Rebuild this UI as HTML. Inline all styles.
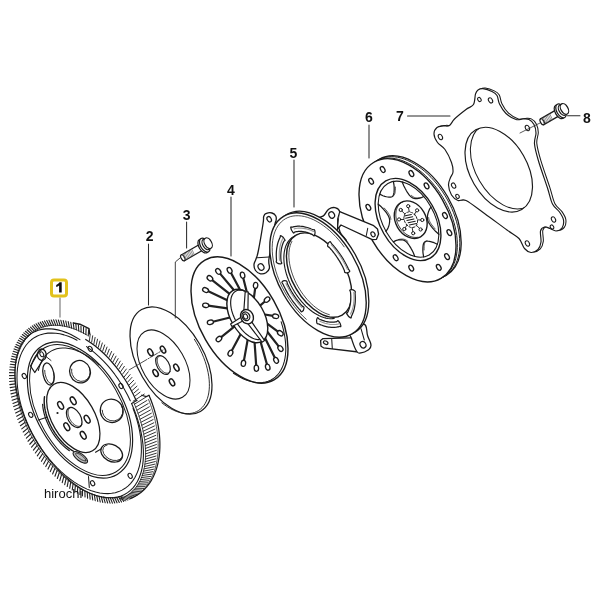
<!DOCTYPE html>
<html><head><meta charset="utf-8"><title>clutch</title>
<style>
html,body{margin:0;padding:0;background:#fff;}
body{width:600px;height:600px;overflow:hidden;font-family:"Liberation Sans",sans-serif;}
svg{display:block;font-family:"Liberation Sans",sans-serif;}
</style></head><body>
<svg width="600" height="600" viewBox="0 0 600 600" stroke-linecap="round" stroke-linejoin="round">
<rect width="600" height="600" fill="#fff"/>
<path d="M130.2 498.51 L131.22 498.12 L132.23 497.69 L133.23 497.24 L134.21 496.76 L135.18 496.25 L136.13 495.72 L137.06 495.16 L137.99 494.58 L138.89 493.97 L139.78 493.33 L140.66 492.67 L141.51 491.98 L142.35 491.27 L143.18 490.53 L143.98 489.77 L144.77 488.98 L145.54 488.17 L146.29 487.34 L147.03 486.48 L147.74 485.6 L148.44 484.7 L149.12 483.77 L149.78 482.82 L150.42 481.85 L151.04 480.85 L151.64 479.83 L152.22 478.8 L152.78 477.74 L153.32 476.66 L153.84 475.56 L154.34 474.44 L154.82 473.3 L155.28 472.14 L155.72 470.96 L156.13 469.77 L156.53 468.55 L156.9 467.32 L157.25 466.07 L157.58 464.8 L157.89 463.51 L158.18 462.21 L158.44 460.89 L158.68 459.56 L158.9 458.21 L159.1 456.85 L159.28 455.47 L159.43 454.08 L159.57 452.68 L159.68 451.26 L159.76 449.83 L159.83 448.38 L159.87 446.93 L159.89 445.46 L159.89 443.99 L159.87 442.5 L159.82 441 L159.75 439.49 L159.66 437.98 L159.55 436.45 L159.41 434.92 L159.25 433.38 L159.07 431.83 L158.87 430.27 L158.64 428.71 L158.4 427.14 L158.13 425.57 L157.84 423.99 L157.52 422.41 L157.19 420.83 L156.84 419.24 L156.46 417.64 L156.06 416.05 L155.64 414.45 L155.2 412.86 L154.74 411.26 L154.26 409.66 L153.75 408.06 L153.23 406.46 L152.68 404.86 L152.12 403.26 L151.54 401.67 L150.93 400.07 L150.31 398.48 L149.66 396.9 L149 395.32" fill="none" stroke="#1a1a1a" stroke-width="1.23" />
<path d="M132.48 497.76 L133.44 497.25 L134.4 496.72 L135.33 496.16 L136.25 495.58 L137.16 494.97 L138.05 494.33 L138.92 493.67 L139.78 492.98 L140.62 492.27 L141.44 491.53 L142.25 490.77 L143.04 489.98 L143.81 489.17 L144.56 488.34 L145.3 487.48 L146.01 486.6 L146.71 485.7 L147.39 484.77 L148.05 483.82 L148.69 482.85 L149.31 481.85 L149.91 480.83 L150.49 479.8 L151.05 478.74 L151.59 477.66 L152.11 476.56 L152.61 475.44 L153.09 474.3 L153.55 473.14 L153.98 471.96 L154.4 470.77 L154.79 469.55 L155.17 468.32 L155.52 467.07 L155.85 465.8 L156.16 464.51 L156.44 463.21 L156.71 461.89 L156.95 460.56 L157.17 459.21 L157.37 457.85 L157.55 456.47 L157.7 455.08 L157.83 453.68 L157.94 452.26 L158.03 450.83 L158.1 449.38 L158.14 447.93 L158.16 446.46 L158.16 444.99 L158.13 443.5 L158.09 442 L158.02 440.49 L157.93 438.98 L157.81 437.45 L157.68 435.92 L157.52 434.38 L157.34 432.83 L157.14 431.27 L156.91 429.71 L156.66 428.14 L156.4 426.57 L156.1 424.99 L155.79 423.41 L155.46 421.83 L155.1 420.24 L154.73 418.64 L154.33 417.05 L153.91 415.45 L153.47 413.86 L153.01 412.26 L152.52 410.66 L152.02 409.06 L151.5 407.46 L150.95 405.86 L150.39 404.26 L149.8 402.67 L149.2 401.07 L148.58 399.48" fill="none" stroke="#1a1a1a" stroke-width="0.78" />
<path d="M149 395.32 L146.4 396.62 L141.44 395.19" fill="none" stroke="#1a1a1a" stroke-width="1.17" />
<path d="M73.29 322.99 L79.89 324.22 L89.01 328.73 L89.62 333.84" fill="none" stroke="#1a1a1a" stroke-width="1.43" />
<path d="M88.24 335.85L88.66 329.88M85.86 334.45L86.09 328.47M83.48 333.14L83.53 327.17M81.1 331.93L80.96 325.97M78.73 330.82L78.4 324.87M76.35 329.8L75.84 323.88M73.99 328.89L73.29 322.99M71.64 328.07L70.76 322.21M69.3 327.36L68.23 321.54M66.98 326.75L65.73 320.98M64.68 326.24L63.25 320.54M62.4 325.84L60.79 320.2M60.14 325.54L58.35 319.97M57.91 325.35L55.95 319.85M55.72 325.26L53.58 319.85M53.55 325.27L51.25 319.96M51.43 325.39L48.95 320.18M49.34 325.62L46.7 320.51M47.29 325.95L44.49 320.95M45.29 326.38L42.33 321.5M43.33 326.92L40.22 322.16M41.42 327.56L38.16 322.93M39.56 328.3L36.15 323.81M37.75 329.15L34.2 324.8M36 330.09L32.31 325.89M34.31 331.14L30.49 327.08M32.67 332.28L28.72 328.38M31.1 333.52L27.02 329.78M29.59 334.85L25.4 331.28M28.14 336.28L23.84 332.88M26.76 337.8L22.35 334.57M25.45 339.41L20.94 336.35M24.21 341.1L19.6 338.23M23.05 342.88L18.34 340.2M21.95 344.75L17.16 342.25M20.93 346.7L16.06 344.39M19.99 348.72L15.04 346.61M19.12 350.83L14.1 348.91M18.33 353L13.25 351.28M17.62 355.25L12.48 353.73M16.98 357.57L11.8 356.25M16.43 359.95L11.2 358.84M15.96 362.39L10.69 361.49M15.57 364.9L10.27 364.2M15.27 367.46L9.94 366.97M15.04 370.07L9.7 369.79M14.9 372.74L9.55 372.67M14.84 375.45L9.48 375.59M14.87 378.21L9.51 378.55M14.97 381.01L9.63 381.56M15.16 383.84L9.83 384.6M15.44 386.71L10.13 387.67M15.79 389.61L10.51 390.78M16.23 392.53L10.98 393.91M16.75 395.48L11.54 397.06M17.35 398.45L12.19 400.22M18.03 401.43L12.92 403.41M18.79 404.43L13.74 406.6M19.62 407.43L14.64 409.79M20.54 410.44L15.63 412.99M21.53 413.45L16.69 416.19M22.59 416.46L17.84 419.38M23.73 419.46L19.07 422.57M24.94 422.45L20.38 425.73M26.23 425.43L21.76 428.89M27.58 428.39L23.21 432.02M28.99 431.33L24.74 435.12M30.48 434.25L26.34 438.2M32.03 437.14L28.01 441.24M33.64 440L29.75 444.25M35.31 442.82L31.55 447.22M37.04 445.61L33.42 450.14M38.82 448.35L35.34 453.02M40.66 451.05L37.32 455.85M42.55 453.7L39.36 458.62M44.49 456.3L41.45 461.33M46.47 458.85L43.59 463.99M48.5 461.33L45.78 466.58M50.58 463.76L48.02 469.1M52.69 466.12L50.3 471.55M54.84 468.42L52.62 473.93M57.02 470.65L54.97 476.24M59.24 472.8L57.36 478.46M61.48 474.88L59.78 480.61M63.75 476.88L62.23 482.67M66.04 478.81L64.7 484.64M68.36 480.65L67.2 486.52M70.69 482.41L69.71 488.32M73.04 484.08L72.24 490.01M75.4 485.66L74.79 491.62M77.76 487.15L77.34 493.12M80.14 488.55L79.91 494.53M82.52 489.86L82.47 495.83M84.9 491.07L85.04 497.03M87.27 492.18L87.6 498.13M89.65 493.2L90.16 499.12M92.01 494.11L92.71 500.01M94.36 494.93L95.24 500.79M96.7 495.64L97.77 501.46M99.02 496.25L100.27 502.02M101.32 496.76L102.75 502.46M103.6 497.16L105.21 502.8M105.86 497.46L107.65 503.03M108.09 497.65L110.05 503.15M110.28 497.74L112.42 503.15M112.45 497.73L114.75 503.04M114.57 497.61L117.05 502.82M116.66 497.38L119.3 502.49M118.71 497.05L121.51 502.05M120.71 496.62L123.67 501.5" fill="none" stroke="#222" stroke-width="1.12"/>
<path d="M119.78 498.5L125.78 500.84M121.59 497.92L127.84 500.07M123.35 497.24L129.85 499.19M125.05 496.46L131.8 498.2M126.7 495.57L133.69 497.11M128.29 494.59L135.51 495.92M129.82 493.5L137.28 494.62M131.29 492.32L138.98 493.22M132.7 491.04L140.6 491.72M134.04 489.67L142.16 490.12M135.31 488.2L143.65 488.43M136.52 486.65L145.06 486.65M137.65 485L146.4 484.77M138.72 483.26L147.66 482.8M139.71 481.44L148.84 480.75M140.63 479.54L149.94 478.61M141.47 477.56L150.96 476.39M142.24 475.5L151.9 474.09M142.93 473.36L152.75 471.72M143.55 471.15L153.52 469.27M144.08 468.87L154.2 466.75M144.54 466.52L154.8 464.16M144.91 464.11L155.31 461.51M145.21 461.63L155.73 458.8M145.42 459.1L156.06 456.03M145.56 456.51L156.3 453.21M145.61 453.86L156.45 450.33M145.59 451.17L156.52 447.41M145.48 448.43L156.49 444.45M145.29 445.65L156.37 441.44M145.02 442.83L156.17 438.4M144.67 439.98L155.87 435.33M144.24 437.09L155.49 432.22M143.74 434.17L155.02 429.09M143.15 431.23L154.46 425.94M142.49 428.26L153.81 422.78M141.74 425.28L153.08 419.59M140.93 422.28L152.26 416.4M140.03 419.27L151.36 413.21M139.07 416.26L150.37 410.01M138.03 413.24L149.31 406.81M136.91 410.22L148.16 403.62M135.73 407.2L146.93 400.43M134.48 404.19L145.62 397.27M133.16 401.19L144.24 394.11M135.18 395.92L140.02 392.16M133.81 393.09L138.54 389.15M132.38 390.28L136.98 386.16M130.88 387.5L135.36 383.21M129.33 384.75L133.68 380.3M127.72 382.03L131.93 377.42M126.06 379.35L130.13 374.58M124.35 376.7L128.26 371.79M122.58 374.1L126.35 369.04M120.77 371.55L124.38 366.35M118.91 369.04L122.35 363.71M117.01 366.58L120.28 361.13M115.06 364.18L118.17 358.62M113.08 361.84L116.01 356.16M111.06 359.56L113.81 353.78M109.01 357.34L111.58 351.46M106.92 355.18L109.31 349.22M104.81 353.1L107.01 347.05M102.67 351.09L104.68 344.96M100.5 349.15L102.32 342.96M98.31 347.28L99.94 341.03M96.11 345.5L97.53 339.2M93.89 343.79L95.11 337.45M91.65 342.17L92.68 335.79M89.41 340.63L90.23 334.22" fill="none" stroke="#222" stroke-width="0.92"/>
<path d="M87.05 335.14 L82.23 332.49 L77.41 330.24 L72.62 328.4 L67.88 326.98 L63.22 325.97 L58.65 325.4 L54.21 325.26 L49.91 325.54 L45.78 326.26 L41.84 327.41 L38.1 328.98 L34.58 330.96 L31.31 333.34 L28.3 336.12 L25.56 339.27 L23.11 342.78 L20.96 346.64 L19.12 350.83 L17.6 355.31 L16.4 360.08 L15.54 365.11 L15.02 370.37 L14.84 375.83 L15 381.48 L15.5 387.27 L16.34 393.18 L17.51 399.19 L19.01 405.26 L20.83 411.36 L22.97 417.46 L25.4 423.53 L28.12 429.54 L31.12 435.46 L34.37 441.26 L37.87 446.91 L41.6 452.38 L45.53 457.65 L49.65 462.69 L53.94 467.47 L58.37 471.97 L62.93 476.17 L67.58 480.04 L72.32 483.58 L77.11 486.75 L81.92 489.54 L86.75 491.94 L91.55 493.94 L96.31 495.53 L101.01 496.69 L105.61 497.43 L110.1 497.74 L114.46 497.62 L118.65 497.06 L122.67 496.08" fill="none" stroke="#1a1a1a" stroke-width="0.78"/>
<path d="M119.78 498.5 L123.47 497.19 L126.93 495.44 L130.14 493.26 L133.09 490.66 L135.75 487.66 L138.12 484.27 L140.18 480.5 L141.92 476.39 L143.34 471.95 L144.41 467.2 L145.15 462.17 L145.55 456.88 L145.59 451.37 L145.29 445.65 L144.65 439.77 L143.66 433.75 L142.33 427.62 L140.68 421.42 L138.7 415.18 L136.42 408.92 L133.83 402.69" fill="none" stroke="#1a1a1a" stroke-width="0.78"/>
<path d="M79.92 339.65 L75.4 336.92 L70.91 334.57 L66.46 332.61 L62.06 331.04 L57.76 329.88 L53.56 329.14 L49.49 328.81 L45.56 328.89 L41.8 329.4 L38.22 330.31 L34.85 331.64 L31.69 333.37 L28.77 335.49 L26.1 338 L23.69 340.88 L21.56 344.12 L19.71 347.7 L18.15 351.6 L16.89 355.81 L15.95 360.3 L15.31 365.05 L14.99 370.04 L14.99 375.25 L15.3 380.64 L15.93 386.19 L16.87 391.88 L18.12 397.67 L19.67 403.54 L21.51 409.46 L23.64 415.4 L26.04 421.32 L28.71 427.21 L31.62 433.03 L34.77 438.75 L38.14 444.35 L41.71 449.79 L45.47 455.05 L49.39 460.11 L53.46 464.93 L57.66 469.5 L61.97 473.8 L66.35 477.79 L70.81 481.47 L75.3 484.81 L79.81 487.79 L84.32 490.41 L88.81 492.65 L93.24 494.49 L97.61 495.94 L101.89 496.98 L106.05 497.6 L110.09 497.81 L113.96 497.6 L117.67 496.98 L121.19 495.94 L124.5 494.49 L127.59 492.65 L130.44 490.41 L133.03 487.79 L135.36 484.8 L137.42 481.46 L139.18 477.79 L140.65 473.79 L141.82 469.5 L142.67 464.93 L143.22 460.1 L143.44 455.05 L143.35 449.79 L142.95 444.34 L142.23 438.75 L141.2 433.03 L139.86 427.21 L138.22 421.32 L136.29 415.39 L134.08 409.46 L131.6 403.54" fill="none" stroke="#1a1a1a" stroke-width="1.1"/>
<path d="M77.02 340.24 L72.66 338.08 L68.33 336.28 L64.06 334.87 L59.86 333.84 L55.75 333.21 L51.76 332.97 L47.91 333.13 L44.21 333.68 L40.68 334.63 L37.35 335.97 L34.22 337.68 L31.31 339.78 L28.64 342.23 L26.21 345.03 L24.05 348.18 L22.17 351.64 L20.56 355.41 L19.24 359.46 L18.22 363.78 L17.5 368.35 L17.09 373.13 L16.98 378.12 L17.18 383.28 L17.69 388.58 L18.5 394.01 L19.61 399.54 L21.01 405.13 L22.7 410.76 L24.67 416.41 L26.91 422.04 L29.4 427.62 L32.15 433.14 L35.12 438.56 L38.32 443.85 L41.71 448.99 L45.29 453.96 L49.04 458.72 L52.93 463.26 L56.96 467.56 L61.1 471.58 L65.32 475.32 L69.62 478.75 L73.96 481.86 L78.32 484.63 L82.7 487.05 L87.05 489.11 L91.36 490.79 L95.62 492.08 L99.79 492.99 L103.87 493.51 L107.82 493.62 L111.63 493.35 L115.28 492.67 L118.75 491.61 L122.02 490.15 L125.09 488.32 L127.92 486.12 L130.52 483.56 L132.87 480.65 L134.94 477.41 L136.75 473.85 L138.27 470 L139.5 465.86 L140.43 461.46 L141.05 456.83 L141.37 451.98 L141.39 446.94 L141.1 441.73 L140.5 436.39 L139.6 430.93 L138.4 425.38 L136.91 419.77 L135.14 414.13 L133.08 408.49" fill="none" stroke="#1a1a1a" stroke-width="1.04"/>
<path d="M136.17 400.52 L133.48 394.68 L130.52 388.92 L127.31 383.28 L123.87 377.79 L120.21 372.48 L116.36 367.37 L112.34 362.5 L108.16 357.88 L103.84 353.54 L99.42 349.51 L94.91 345.8 L90.34 342.44 L85.73 339.44" fill="none" stroke="#1a1a1a" stroke-width="1.23"/>
<path d="M130.29 400.84 L127.66 395.32 L124.78 389.89 L121.67 384.58 L118.34 379.42 L114.82 374.43 L111.13 369.65 L107.29 365.09 L103.3 360.8 L99.21 356.78 L95.03 353.06 L90.78 349.66 L86.49 346.61" fill="none" stroke="#1a1a1a" stroke-width="1.04"/>
<line x1="137.12" y1="400.2" x2="131.6" y2="403.54" stroke="#1a1a1a" stroke-width="1.04" />
<ellipse cx="80" cy="410" rx="43" ry="74.4" transform="rotate(-30 80 410)" fill="none" stroke="#1a1a1a" stroke-width="1.17" />
<ellipse cx="80" cy="410" rx="41" ry="71.6" transform="rotate(-30 80 410)" fill="none" stroke="#1a1a1a" stroke-width="0.98" />
<path d="M98.96 365.14 L95.65 362.2 L92.29 359.5 L88.9 357.06 L85.48 354.89 L82.07 353 L78.67 351.4 L75.3 350.1 L71.98 349.1 L68.73 348.41 L65.56 348.04 L62.49 347.98 L59.54 348.24 L56.71 348.81 L54.03 349.69 L51.51 350.88 L49.16 352.37 L46.99 354.15 L45.02 356.22 L43.25 358.56 L41.69 361.16 L40.35 364.01 L39.24 367.09 L38.37 370.39" fill="none" stroke="#1a1a1a" stroke-width="1.04"/>
<line x1="88.84" y1="356.3" x2="89.57" y2="357.1" stroke="#333" stroke-width="0.65" />
<line x1="85.99" y1="354.34" x2="86.88" y2="355.33" stroke="#333" stroke-width="0.65" />
<line x1="83.12" y1="352.57" x2="84.19" y2="353.72" stroke="#333" stroke-width="0.65" />
<line x1="80.26" y1="350.97" x2="81.49" y2="352.3" stroke="#333" stroke-width="0.65" />
<line x1="77.4" y1="349.57" x2="78.81" y2="351.05" stroke="#333" stroke-width="0.65" />
<line x1="74.55" y1="348.36" x2="76.15" y2="349.98" stroke="#333" stroke-width="0.65" />
<line x1="71.73" y1="347.35" x2="73.51" y2="349.1" stroke="#333" stroke-width="0.65" />
<path d="M38.3 351.5 C39.37 349.63 39.63 349.05 41.5 349 C43.37 348.95 44.1 349.3 45.3 351.3 C46.5 353.3 46.48 354.18 46 356.5 C45.52 358.82 45.23 359.2 43.5 360 C41.77 360.8 41.1 360.57 39.5 359.5 C37.9 358.43 37.82 358.13 37.5 356 C37.18 353.87 37.23 353.37 38.3 351.5Z" fill="none" stroke="#1a1a1a" stroke-width="1.3" />
<path d="M38 353 L30.5 366 L34.8 372.5 L43 360" fill="none" stroke="#1a1a1a" stroke-width="1.3" />
<path d="M46 356.5 L51 360.5" fill="none" stroke="#1a1a1a" stroke-width="0.91" />
<ellipse cx="41.8" cy="354.3" rx="1.7" ry="2.6" transform="rotate(-30 41.8 354.3)" fill="none" stroke="#1a1a1a" stroke-width="1.04" />
<line x1="38.5" y1="420" x2="46.8" y2="417.3" stroke="#1a1a1a" stroke-width="1.04" />
<line x1="95.5" y1="452.3" x2="101" y2="449" stroke="#1a1a1a" stroke-width="1.04" />
<line x1="88.5" y1="476.5" x2="89.3" y2="487.5" stroke="#1a1a1a" stroke-width="1.04" />
<ellipse cx="80" cy="371.7" rx="10.3" ry="11.3" transform="rotate(-20 80 371.7)" fill="#fff" stroke="#1a1a1a" stroke-width="1.25"/>
<ellipse cx="80.9" cy="371.3" rx="9.2" ry="10.2" transform="rotate(-20 80.9 371.3)" fill="none" stroke="#1a1a1a" stroke-width="0.8" stroke-dasharray="35.64 200" />
<ellipse cx="48.5" cy="374" rx="5.4" ry="11.2" transform="rotate(-12 48.5 374)" fill="#fff" stroke="#1a1a1a" stroke-width="1.25"/>
<ellipse cx="49.4" cy="373.6" rx="4.3" ry="10.1" transform="rotate(-12 49.4 373.6)" fill="none" stroke="#1a1a1a" stroke-width="0.8" stroke-dasharray="27.39 200" />
<ellipse cx="111.7" cy="410.8" rx="11.3" ry="11.8" transform="rotate(-30 111.7 410.8)" fill="#fff" stroke="#1a1a1a" stroke-width="1.25"/>
<ellipse cx="112.6" cy="410.4" rx="10.2" ry="10.7" transform="rotate(-30 112.6 410.4)" fill="none" stroke="#1a1a1a" stroke-width="0.8" stroke-dasharray="38.12 200" />
<ellipse cx="111.7" cy="453" rx="11.5" ry="8.3" transform="rotate(28 111.7 453)" fill="#fff" stroke="#1a1a1a" stroke-width="1.25"/>
<ellipse cx="112.6" cy="452.6" rx="10.4" ry="7.2" transform="rotate(28 112.6 452.6)" fill="none" stroke="#1a1a1a" stroke-width="0.8" stroke-dasharray="32.67 200" />
<ellipse cx="80.3" cy="457.3" rx="8.6" ry="3.6" transform="rotate(36 80.3 457.3)" fill="#bbb" stroke="#1a1a1a" stroke-width="1.1"/>
<ellipse cx="80.8" cy="457.1" rx="6.3" ry="1.8" transform="rotate(36 80.8 457.1)" fill="none" stroke="#1a1a1a" stroke-width="0.7"/>
<path d="M44.49 396.77 L44.27 398.87 L44.19 401.08 L44.26 403.37 L44.46 405.75 L44.8 408.18 L45.28 410.68 L45.9 413.21 L46.64 415.77 L47.52 418.35 L48.52 420.93 L49.63 423.49 L50.86 426.03 L52.2 428.54 L53.63 430.99 L55.16 433.37 L56.77 435.68 L58.45 437.91 L60.21 440.03 L62.02 442.04 L63.88 443.93 L65.77 445.69 L67.7 447.31 L69.65 448.78 L71.6 450.1 L73.55 451.25" fill="none" stroke="#1a1a1a" stroke-width="1.43"/>
<path d="M42.6 404.32 L42.82 406.66 L43.17 409.07 L43.66 411.52 L44.27 414.01 L45.01 416.53 L45.87 419.06 L46.85 421.6 L47.94 424.12 L49.14 426.62 L50.44 429.08 L51.84 431.5 L53.32 433.86 L54.89 436.15 L56.53 438.36 L58.23 440.47 L60 442.48 L61.81 444.38 L63.66 446.16 L65.54 447.81 L67.45 449.32 L69.36 450.68" fill="none" stroke="#1a1a1a" stroke-width="1.17"/>
<ellipse cx="73.3" cy="417.5" rx="21.3" ry="38.5" transform="rotate(-30 73.3 417.5)" fill="#fff" stroke="#1a1a1a" stroke-width="1.23" />
<ellipse cx="74.2" cy="417.5" rx="6.4" ry="11" transform="rotate(-30 74.2 417.5)" fill="none" stroke="#1a1a1a" stroke-width="1.23" />
<path d="M72.07 407.44 L71.63 407.44 L71.2 407.49 L70.79 407.58 L70.4 407.71 L70.04 407.89 L69.7 408.12 L69.39 408.38 L69.11 408.69 L68.86 409.04 L68.63 409.43 L68.45 409.85 L68.29 410.31 L68.17 410.8 L68.08 411.32 L68.03 411.86 L68.01 412.44 L68.03 413.03 L68.08 413.64 L68.17 414.27 L68.29 414.91 L68.45 415.56 L68.63 416.21 L68.86 416.87 L69.11 417.53 L69.39 418.19 L69.7 418.84 L70.04 419.48 L70.4 420.11 L70.79 420.73 L71.2 421.32 L71.62 421.89 L72.07 422.44 L72.53 422.96 L73 423.45 L73.49 423.91 L73.98 424.34 L74.48 424.73 L74.99 425.08 L75.49 425.39 L75.99 425.66 L76.49 425.89 L76.99 426.07 L77.47 426.21 L77.95 426.31 L78.41 426.36 L78.85 426.36 L79.28 426.31 L79.69 426.22 L80.08 426.09 L80.44 425.91 L80.78 425.68 L81.09 425.42 L81.37 425.11 L81.62 424.76 L81.84 424.37" fill="none" stroke="#1a1a1a" stroke-width="0.91"/>
<ellipse cx="83.22" cy="435.28" rx="2.3" ry="4.2" transform="rotate(-30 83.22 435.28)" fill="none" stroke="#1a1a1a" stroke-width="1.49" />
<ellipse cx="87.16" cy="419.23" rx="2.3" ry="4.2" transform="rotate(-30 87.16 419.23)" fill="none" stroke="#1a1a1a" stroke-width="1.49" />
<ellipse cx="73.19" cy="400.78" rx="2.3" ry="4.2" transform="rotate(-30 73.19 400.78)" fill="none" stroke="#1a1a1a" stroke-width="1.49" />
<ellipse cx="60.62" cy="405.44" rx="2.3" ry="4.2" transform="rotate(-30 60.62 405.44)" fill="none" stroke="#1a1a1a" stroke-width="1.49" />
<ellipse cx="66.81" cy="426.76" rx="2.3" ry="4.2" transform="rotate(-30 66.81 426.76)" fill="none" stroke="#1a1a1a" stroke-width="1.49" />
<circle cx="57.5" cy="413" r="1.1" fill="#1a1a1a"/>
<ellipse cx="130.15" cy="475.86" rx="1.9" ry="2.7" transform="rotate(-30 130.15 475.86)" fill="none" stroke="#1a1a1a" stroke-width="1.1" />
<ellipse cx="90.16" cy="348.85" rx="1.9" ry="2.7" transform="rotate(-30 90.16 348.85)" fill="none" stroke="#1a1a1a" stroke-width="1.1" />
<ellipse cx="24.27" cy="376.05" rx="1.9" ry="2.7" transform="rotate(-30 24.27 376.05)" fill="none" stroke="#1a1a1a" stroke-width="1.1" />
<ellipse cx="30.72" cy="414.83" rx="1.9" ry="2.7" transform="rotate(-30 30.72 414.83)" fill="none" stroke="#1a1a1a" stroke-width="1.1" />
<ellipse cx="92.59" cy="483.22" rx="1.9" ry="2.7" transform="rotate(-30 92.59 483.22)" fill="none" stroke="#1a1a1a" stroke-width="1.1" />
<ellipse cx="121" cy="386" rx="1.9" ry="2.7" transform="rotate(-30 121 386)" fill="none" stroke="#1a1a1a" stroke-width="1.1" />
<ellipse cx="171" cy="360.5" rx="33" ry="58.8" transform="rotate(-30 171 360.5)" fill="#fff" stroke="#1a1a1a" stroke-width="1.23" />
<path d="M161.85 402.82 L164.73 405 L167.63 406.95 L170.53 408.66 L173.42 410.13 L176.28 411.35 L179.11 412.31 L181.88 413.02 L184.58 413.46 L187.2 413.63 L189.73 413.53 L192.15 413.16 L194.46 412.54 L196.63 411.64 L198.66 410.49 L200.54 409.09 L202.26 407.44 L203.81 405.56 L205.18 403.45 L206.37 401.12 L207.37 398.58 L208.17 395.86 L208.78 392.95 L209.18 389.88 L209.38 386.66 L209.37 383.31 L209.16 379.84 L208.74 376.27 L208.13 372.63 L207.31 368.92 L206.3 365.16 L205.1 361.38 L203.71 357.59 L202.15 353.82 L200.42 350.08 L198.53 346.39 L196.49 342.76 L194.31 339.22" fill="none" stroke="#1a1a1a" stroke-width="0.91"/>
<ellipse cx="163.5" cy="364.5" rx="21.4" ry="37.9" transform="rotate(-30 163.5 364.5)" fill="none" stroke="#1a1a1a" stroke-width="1.04" />
<ellipse cx="163" cy="365" rx="6" ry="10.3" transform="rotate(-30 163 365)" fill="none" stroke="#1a1a1a" stroke-width="1.17" />
<path d="M160.04 355.79 L159.66 355.9 L159.31 356.05 L158.98 356.24 L158.68 356.47 L158.4 356.75 L158.15 357.06 L157.93 357.4 L157.74 357.78 L157.58 358.2 L157.45 358.64 L157.35 359.12 L157.29 359.62 L157.25 360.14 L157.26 360.69 L157.29 361.26 L157.36 361.84 L157.46 362.43 L157.6 363.03 L157.76 363.65 L157.96 364.26 L158.18 364.88 L158.44 365.49 L158.72 366.1 L159.03 366.7 L159.36 367.29 L159.71 367.86 L160.09 368.42 L160.48 368.96 L160.9 369.48 L161.32 369.97 L161.76 370.43 L162.22 370.87 L162.68 371.27 L163.14 371.64 L163.61 371.97 L164.08 372.26 L164.56 372.52 L165.02 372.74 L165.49 372.91 L165.94 373.05 L166.39 373.14 L166.82 373.18 L167.24 373.19 L167.65 373.15 L168.03 373.07 L168.39 372.94 L168.74 372.77 L169.06 372.56 L169.35 372.31 L169.62 372.03 L169.85 371.7 L170.06 371.34" fill="none" stroke="#1a1a1a" stroke-width="0.91"/>
<ellipse cx="150.4" cy="352.4" rx="2.15" ry="3.8" transform="rotate(-30 150.4 352.4)" fill="none" stroke="#1a1a1a" stroke-width="1.49" />
<ellipse cx="163" cy="349.6" rx="2.15" ry="3.8" transform="rotate(-30 163 349.6)" fill="none" stroke="#1a1a1a" stroke-width="1.49" />
<ellipse cx="176.4" cy="367.6" rx="2.15" ry="3.8" transform="rotate(-30 176.4 367.6)" fill="none" stroke="#1a1a1a" stroke-width="1.49" />
<ellipse cx="172" cy="382.4" rx="2.15" ry="3.8" transform="rotate(-30 172 382.4)" fill="none" stroke="#1a1a1a" stroke-width="1.49" />
<ellipse cx="155.6" cy="373" rx="2.15" ry="3.8" transform="rotate(-30 155.6 373)" fill="none" stroke="#1a1a1a" stroke-width="1.49" />
<line x1="60" y1="298" x2="60" y2="317" stroke="#888" stroke-width="1.3" />
<line x1="148.5" y1="244" x2="148.5" y2="305" stroke="#2a2a2a" stroke-width="1.04" />
<line x1="186.6" y1="222" x2="186.6" y2="248" stroke="#2a2a2a" stroke-width="1.04" />
<line x1="231" y1="197" x2="231" y2="256" stroke="#2a2a2a" stroke-width="1.04" />
<line x1="294" y1="160" x2="294" y2="207" stroke="#2a2a2a" stroke-width="1.04" />
<line x1="369" y1="125" x2="369" y2="158" stroke="#2a2a2a" stroke-width="1.04" />
<line x1="407.5" y1="116" x2="450" y2="116" stroke="#2a2a2a" stroke-width="1.04" />
<line x1="567.5" y1="115.8" x2="580" y2="115.8" stroke="#2a2a2a" stroke-width="1.04" />
<path d="M180 258 L175.3 262 L175.3 318" fill="none" stroke="#2a2a2a" stroke-width="0.91" />
<line x1="129" y1="370" x2="163" y2="350" stroke="#2a2a2a" stroke-width="0.85" stroke-dasharray="8 1.5 1.5 1.5"/>
<ellipse cx="239.5" cy="320" rx="39.3" ry="69.1" transform="rotate(-30 239.5 320)" fill="#fff" stroke="#1a1a1a" stroke-width="1.43" />
<path d="M233.44 373.22 L236.82 375.41 L240.2 377.32 L243.57 378.95 L246.91 380.3 L250.2 381.35 L253.43 382.1 L256.58 382.55 L259.64 382.69 L262.59 382.52 L265.42 382.05 L268.1 381.27 L270.64 380.19 L273.02 378.82 L275.22 377.16 L277.24 375.22 L279.06 373.01 L280.68 370.54 L282.08 367.82 L283.27 364.87 L284.24 361.7 L284.98 358.32 L285.48 354.76 L285.75 351.02 L285.78 347.13 L285.58 343.11 L285.14 338.98 L284.47 334.75 L283.57 330.44 L282.45 326.09 L281.1 321.7" fill="none" stroke="#1a1a1a" stroke-width="1.04"/>
<line x1="274.97" y1="358.11" x2="265.01" y2="338.07" stroke="#222" stroke-width="2.21" />
<ellipse cx="276.08" cy="360.34" rx="3.1" ry="2.2" transform="rotate(-116.43 276.08 360.34)" fill="#fff" stroke="#1a1a1a" stroke-width="1.3"/>
<line x1="278.91" y1="346.6" x2="267.29" y2="331.79" stroke="#222" stroke-width="2.21" />
<ellipse cx="280.45" cy="348.57" rx="3.1" ry="2.2" transform="rotate(-128.1 280.45 348.57)" fill="#fff" stroke="#1a1a1a" stroke-width="1.3"/>
<line x1="278.29" y1="331.78" x2="267.16" y2="323.6" stroke="#222" stroke-width="2.21" />
<ellipse cx="280.3" cy="333.26" rx="3.1" ry="2.2" transform="rotate(-143.66 280.3 333.26)" fill="#fff" stroke="#1a1a1a" stroke-width="1.3"/>
<line x1="273.18" y1="315.87" x2="264.63" y2="314.49" stroke="#222" stroke-width="2.21" />
<ellipse cx="275.65" cy="316.27" rx="3.1" ry="2.2" transform="rotate(-170.82 275.65 316.27)" fill="#fff" stroke="#1a1a1a" stroke-width="1.3"/>
<line x1="265.15" y1="301.25" x2="260.02" y2="305.56" stroke="#222" stroke-width="2.21" />
<ellipse cx="267.07" cy="299.65" rx="3.1" ry="2.2" transform="rotate(139.98 267.07 299.65)" fill="#fff" stroke="#1a1a1a" stroke-width="1.3"/>
<line x1="255.24" y1="287.87" x2="253.87" y2="297.9" stroke="#222" stroke-width="2.21" />
<ellipse cx="255.58" cy="285.39" rx="3.1" ry="2.2" transform="rotate(97.79 255.58 285.39)" fill="#fff" stroke="#1a1a1a" stroke-width="1.3"/>
<line x1="243.18" y1="277.65" x2="246.92" y2="292.42" stroke="#222" stroke-width="2.21" />
<ellipse cx="242.57" cy="275.23" rx="3.1" ry="2.2" transform="rotate(75.79 242.57 275.23)" fill="#fff" stroke="#1a1a1a" stroke-width="1.3"/>
<line x1="230.8" y1="272.58" x2="240.03" y2="289.78" stroke="#222" stroke-width="2.21" />
<ellipse cx="229.62" cy="270.38" rx="3.1" ry="2.2" transform="rotate(61.78 229.62 270.38)" fill="#fff" stroke="#1a1a1a" stroke-width="1.3"/>
<line x1="219.88" y1="273.35" x2="234.01" y2="290.3" stroke="#222" stroke-width="2.21" />
<ellipse cx="218.28" cy="271.43" rx="3.1" ry="2.2" transform="rotate(50.19 218.28 271.43)" fill="#fff" stroke="#1a1a1a" stroke-width="1.3"/>
<line x1="211.87" y1="279.81" x2="229.59" y2="293.93" stroke="#222" stroke-width="2.21" />
<ellipse cx="209.92" cy="278.26" rx="3.1" ry="2.2" transform="rotate(38.54 209.92 278.26)" fill="#fff" stroke="#1a1a1a" stroke-width="1.3"/>
<line x1="207.82" y1="291.09" x2="227.31" y2="300.21" stroke="#222" stroke-width="2.21" />
<ellipse cx="205.55" cy="290.03" rx="3.1" ry="2.2" transform="rotate(25.07 205.55 290.03)" fill="#fff" stroke="#1a1a1a" stroke-width="1.3"/>
<line x1="208.18" y1="305.69" x2="227.44" y2="308.4" stroke="#222" stroke-width="2.21" />
<ellipse cx="205.7" cy="305.34" rx="3.1" ry="2.2" transform="rotate(8.02 205.7 305.34)" fill="#fff" stroke="#1a1a1a" stroke-width="1.3"/>
<line x1="212.78" y1="321.73" x2="229.97" y2="317.51" stroke="#222" stroke-width="2.21" />
<ellipse cx="210.35" cy="322.33" rx="3.1" ry="2.2" transform="rotate(-13.8 210.35 322.33)" fill="#fff" stroke="#1a1a1a" stroke-width="1.3"/>
<line x1="220.89" y1="337.39" x2="234.58" y2="326.44" stroke="#222" stroke-width="2.21" />
<ellipse cx="218.93" cy="338.95" rx="3.1" ry="2.2" transform="rotate(-38.66 218.93 338.95)" fill="#fff" stroke="#1a1a1a" stroke-width="1.3"/>
<line x1="231.61" y1="351.01" x2="240.73" y2="334.1" stroke="#222" stroke-width="2.21" />
<ellipse cx="230.42" cy="353.21" rx="3.1" ry="2.2" transform="rotate(-61.65 230.42 353.21)" fill="#fff" stroke="#1a1a1a" stroke-width="1.3"/>
<line x1="243.87" y1="360.91" x2="247.68" y2="339.58" stroke="#222" stroke-width="2.21" />
<ellipse cx="243.43" cy="363.37" rx="3.1" ry="2.2" transform="rotate(-79.88 243.43 363.37)" fill="#fff" stroke="#1a1a1a" stroke-width="1.3"/>
<line x1="256.21" y1="365.73" x2="254.57" y2="342.22" stroke="#222" stroke-width="2.21" />
<ellipse cx="256.38" cy="368.22" rx="3.1" ry="2.2" transform="rotate(-93.98 256.38 368.22)" fill="#fff" stroke="#1a1a1a" stroke-width="1.3"/>
<line x1="267.05" y1="364.76" x2="260.59" y2="341.7" stroke="#222" stroke-width="2.21" />
<ellipse cx="267.72" cy="367.17" rx="3.1" ry="2.2" transform="rotate(-105.64 267.72 367.17)" fill="#fff" stroke="#1a1a1a" stroke-width="1.3"/>
<ellipse cx="247.3" cy="316" rx="16.5" ry="29.3" transform="rotate(-30 247.3 316)" fill="#fff" stroke="#1a1a1a" stroke-width="1.43" />
<path d="M243.97 290.63 L242.72 290.3 L241.5 290.1 L240.32 290.03 L239.19 290.07 L238.11 290.24 L237.08 290.53 L236.12 290.95 L235.22 291.48 L234.39 292.12 L233.64 292.88 L232.96 293.75 L232.37 294.72 L231.86 295.79 L231.44 296.96 L231.1 298.22 L230.86 299.55 L230.71 300.97 L230.65 302.45 L230.69 303.99 L230.82 305.59 L231.04 307.24 L231.35 308.92 L231.75 310.63 L232.24 312.36 L232.82 314.1 L233.47 315.85 L234.21 317.59 L235.02 319.31 L235.9 321.02 L236.85 322.69 L237.86 324.33 L238.93 325.92 L240.05 327.45 L241.22 328.92 L242.43 330.32 L243.67 331.64 L244.94 332.88 L246.23 334.03 L247.54 335.08 L248.86 336.03 L250.18 336.88 L251.49 337.61 L252.8 338.24 L254.09 338.74 L255.35 339.13 L256.59 339.4 L257.79 339.55 L258.94 339.57 L260.05 339.47 L261.11 339.24" fill="none" stroke="#1a1a1a" stroke-width="1.17"/>
<path d="M247.8 317.1 L248.2 291.87 L245.2 291.73 L243.4 316.9" fill="#fff" stroke="#1a1a1a" stroke-width="1.17" />
<path d="M244.5 315.1 L230.55 324 L232.05 326.6 L246.7 318.9" fill="#fff" stroke="#1a1a1a" stroke-width="1.17" />
<path d="M243.82 318.3 L262.09 342.18 L264.51 340.42 L247.38 315.7" fill="#fff" stroke="#1a1a1a" stroke-width="1.17" />
<ellipse cx="247" cy="316.7" rx="6.2" ry="7.4" transform="rotate(-30 247 316.7)" fill="#fff" stroke="#1a1a1a" stroke-width="1.37" />
<ellipse cx="245.9" cy="316.3" rx="3.7" ry="4.5" transform="rotate(-30 245.9 316.3)" fill="#fff" stroke="#1a1a1a" stroke-width="1.3" />
<ellipse cx="245.5" cy="316.5" rx="2" ry="2.6" transform="rotate(-30 245.5 316.5)" fill="none" stroke="#1a1a1a" stroke-width="1.17" />
<path d="M202.85 242.44 L181.2 254.94 L184.5 260.66 L206.15 248.16" fill="#fff" stroke="#1a1a1a" stroke-width="1.23" />
<ellipse cx="182.85" cy="257.8" rx="1.7" ry="3.3" transform="rotate(-30 182.85 257.8)" fill="#fff" stroke="#1a1a1a" stroke-width="1.23" />
<line x1="182.65" y1="254.45" x2="185.22" y2="259.9" stroke="#555" stroke-width="0.65" />
<line x1="183.95" y1="253.7" x2="186.51" y2="259.15" stroke="#555" stroke-width="0.65" />
<line x1="185.25" y1="252.95" x2="187.81" y2="258.4" stroke="#555" stroke-width="0.65" />
<line x1="186.55" y1="252.2" x2="189.11" y2="257.65" stroke="#555" stroke-width="0.65" />
<line x1="187.84" y1="251.45" x2="190.41" y2="256.9" stroke="#555" stroke-width="0.65" />
<line x1="189.14" y1="250.7" x2="191.71" y2="256.15" stroke="#555" stroke-width="0.65" />
<line x1="190.44" y1="249.95" x2="193.01" y2="255.4" stroke="#555" stroke-width="0.65" />
<line x1="191.74" y1="249.2" x2="194.31" y2="254.65" stroke="#555" stroke-width="0.65" />
<ellipse cx="203.2" cy="246.05" rx="4.3" ry="7.6" transform="rotate(-30 203.2 246.05)" fill="#fff" stroke="#1a1a1a" stroke-width="1.23" />
<ellipse cx="204.76" cy="245.15" rx="4.3" ry="7.6" transform="rotate(-30 204.76 245.15)" fill="#fff" stroke="#1a1a1a" stroke-width="1.23" />
<ellipse cx="206.23" cy="244.3" rx="3.5" ry="5.8" transform="rotate(-30 206.23 244.3)" fill="#fff" stroke="#1a1a1a" stroke-width="1.23" />
<ellipse cx="208.14" cy="243.2" rx="3.5" ry="5.8" transform="rotate(-30 208.14 243.2)" fill="#fff" stroke="#1a1a1a" stroke-width="1.23" />
<path d="M263.8 216.2 C264.62 213.73 264.59 214.15 266.5 213.4 C268.41 212.65 269.83 212.39 272 213 C274.17 213.61 274.87 214.13 275.8 216 C276.73 217.87 276.28 218.67 276 221 C275.72 223.33 276.09 218.07 274.6 226 C273.11 233.93 270.95 246.6 269.6 255 C268.25 263.4 268.87 258.85 268.8 262 C268.73 265.15 269.95 265.98 269.3 268.5 C268.65 271.02 268.05 271.56 266 272.8 C263.95 274.04 262.95 274.34 260.5 273.8 C258.05 273.26 257.02 272.67 255.5 270.5 C253.98 268.33 253.88 267.18 254 264.5 C254.12 261.82 254.95 262.38 256 259 C257.05 255.62 256.87 258.17 258.5 250 C260.13 241.83 261.76 231.89 263 224 C264.24 216.11 262.98 218.67 263.8 216.2Z" fill="#fff" stroke="#1a1a1a" stroke-width="1.3" />
<ellipse cx="269.2" cy="219.3" rx="2" ry="2.9" transform="rotate(-30 269.2 219.3)" fill="none" stroke="#1a1a1a" stroke-width="1.23" />
<ellipse cx="261" cy="267" rx="2.8" ry="3.4" transform="rotate(-30 261 267)" fill="none" stroke="#1a1a1a" stroke-width="1.23" />
<path d="M257.3 257.8 L269 257" fill="none" stroke="#1a1a1a" stroke-width="1.04" />
<path d="M318 222 C316.67 216.17 321.73 218.03 324.3 215 C326.87 211.97 326.5 210.7 329 209 C331.5 207.3 332.5 207.07 335 207.7 C337.5 208.33 338.88 208.36 339.7 211.7 C340.52 215.04 338.43 217.26 338.5 222 C338.57 226.74 338.25 227.33 340 232 C341.75 236.67 348.33 240.13 346 242 C343.67 243.87 336.53 244.67 330 240 C323.47 235.33 319.33 227.83 318 222Z" fill="#fff" stroke="#1a1a1a" stroke-width="1.3" />
<ellipse cx="331.7" cy="215" rx="2.7" ry="3.3" transform="rotate(-30 331.7 215)" fill="none" stroke="#1a1a1a" stroke-width="1.23" />
<path d="M351 337.8 L323 338.6 L320.6 340.5 L321 346.3 L323.5 347.8 L358.3 352" fill="#fff" stroke="#1a1a1a" stroke-width="1.3" />
<path d="M350 332 C352.89 328.73 359.57 323.07 363.7 324 C367.83 324.93 366 331.03 367.7 336 C369.4 340.97 371 341.96 371 345.3 C371 348.64 370.03 348.55 367.7 350.3 C365.37 352.05 363.61 352.64 361 352.8 C358.39 352.96 358.76 354.45 356.5 351 C354.24 347.55 352.82 342.43 351.3 338 C349.78 333.57 347.11 335.27 350 332Z" fill="#fff" stroke="#1a1a1a" stroke-width="1.3" />
<path d="M361 328.7 L364.3 340" fill="none" stroke="#1a1a1a" stroke-width="1.04" />
<ellipse cx="363" cy="344.7" rx="2.8" ry="3.4" transform="rotate(-30 363 344.7)" fill="none" stroke="#1a1a1a" stroke-width="1.23" />
<ellipse cx="325.7" cy="342.7" rx="1.6" ry="2.4" transform="rotate(-60 325.7 342.7)" fill="none" stroke="#1a1a1a" stroke-width="1.17" />
<path d="M331.7 338.7 L332.3 348.5" fill="none" stroke="#1a1a1a" stroke-width="1.04" />
<ellipse cx="320.6" cy="273.5" rx="39.5" ry="68" transform="rotate(-30 320.6 273.5)" fill="#fff" stroke="#1a1a1a" stroke-width="1.3" />
<ellipse cx="318" cy="275" rx="39.5" ry="68" transform="rotate(-30 318 275)" fill="#fff" stroke="#1a1a1a" stroke-width="1.37" />
<path d="M344.17 246.86 L341.48 243.29 L338.68 239.87 L335.78 236.62 L332.79 233.56 L329.72 230.7 L326.61 228.06 L323.45 225.65 L320.26 223.47 L317.06 221.55 L313.87 219.89 L310.69 218.5 L307.56 217.38 L304.47 216.54 L301.45 215.99 L298.51 215.72 L295.66 215.75 L292.93 216.06 L290.31 216.66 L287.83 217.54 L285.5 218.71 L283.33 220.15 L281.32 221.85 L279.49 223.82 L277.86 226.03 L276.41 228.48 L275.17 231.16 L274.14 234.05 L273.32 237.14 L272.72 240.42 L272.34 243.87 L272.18 247.46 L272.25 251.19 L272.54 255.04 L273.05 258.98 L273.78 263.01 L274.72 267.09 L275.87 271.2 L277.24 275.34 L278.79 279.48 L280.54 283.59 L282.48 287.66 L284.58 291.67 L286.85 295.6 L289.27 299.43 L291.83 303.14 L294.52 306.71 L297.32 310.13 L300.22 313.38 L303.21 316.44 L306.28 319.3" fill="none" stroke="#1a1a1a" stroke-width="0.78"/>
<path d="M296.89 235.21 L295.12 235.84 L293.45 236.68 L291.9 237.7 L290.46 238.92 L289.15 240.32 L287.97 241.9 L286.93 243.65 L286.04 245.56 L285.29 247.62 L284.7 249.82 L284.26 252.15 L283.98 254.6 L283.86 257.15 L283.89 259.81 L284.09 262.54 L284.44 265.34 L284.95 268.2 L285.61 271.1 L286.43 274.02 L287.39 276.96 L288.49 279.9 L289.73 282.81 L291.1 285.7 L292.59 288.55 L294.2 291.34 L295.92 294.05 L297.73 296.68 L299.64 299.21 L301.63 301.63 L303.7 303.93 L305.82 306.1 L308 308.12 L310.22 309.99 L312.47 311.7 L314.74 313.24 L317.02 314.59 L319.3 315.76 L321.56 316.75 L323.8 317.53 L326 318.12 L328.15 318.5 L330.25 318.68 L332.29 318.66 L334.24 318.43" fill="none" stroke="#1a1a1a" stroke-width="1.1"/>
<ellipse cx="319.1" cy="275.1" rx="26.7" ry="46.1" transform="rotate(-30 319.1 275.1)" fill="#fff" stroke="#1a1a1a" stroke-width="1.43" />
<path d="M291.87 241.45 L290.98 243.36 L290.25 245.42 L289.67 247.63 L289.24 249.97 L288.98 252.43 L288.88 255 L288.93 257.66 L289.15 260.41 L289.53 263.22 L290.07 266.09 L290.77 268.99 L291.61 271.93 L292.61 274.87 L293.74 277.81 L295.02 280.73 L296.42 283.62 L297.95 286.45 L299.59 289.23 L301.34 291.93 L303.19 294.54 L305.13 297.04 L307.15 299.43 L309.24 301.69 L311.38 303.81 L313.58 305.79 L315.81 307.6 L318.07 309.24 L320.35 310.71 L322.62 311.99 L324.89 313.09 L327.14 313.98 L329.36 314.67" fill="none" stroke="#1a1a1a" stroke-width="0.78"/>
<path d="M350.5 317.83 C351.75 318.43 350.99 317.07 351.49 316.14 C351.99 315.2 351.93 315.32 352.37 314.32 C352.81 313.32 352.76 313.45 353.14 312.39 C353.52 311.33 353.48 311.46 353.8 310.35 C354.12 309.23 354.08 309.37 354.34 308.2 C354.6 307.03 354.57 307.18 354.76 305.96 C354.96 304.75 354.94 304.9 355.07 303.64 C355.2 302.37 355.19 302.53 355.25 301.23 C355.32 299.92 355.31 300.08 355.32 298.74 C355.32 297.4 355.32 297.57 355.26 296.19 C355.2 294.81 355.21 294.99 355.08 293.58 C354.96 292.17 356.08 291.9 354.79 290.92 C353.49 289.94 351.37 289.54 350.23 289.91 C349.09 290.27 350.4 291.03 350.52 292.29 C350.65 293.54 350.64 293.39 350.71 294.62 C350.79 295.85 350.78 295.7 350.8 296.9 C350.81 298.1 350.81 297.95 350.77 299.12 C350.73 300.28 350.74 300.14 350.64 301.27 C350.54 302.4 350.56 302.26 350.4 303.34 C350.25 304.43 350.27 304.3 350.06 305.34 C349.85 306.38 349.88 306.25 349.61 307.25 C349.34 308.24 349.38 308.12 349.06 309.06 C348.74 310 348.78 309.89 348.41 310.78 C348.03 311.66 348.08 311.56 347.65 312.39 C347.23 313.22 346.04 312.44 346.8 313.89 C347.56 315.34 349.25 317.23 350.5 317.83Z" fill="#fff" stroke="#1a1a1a" stroke-width="1.23" />
<path d="M350.54 314.04 L351.24 312.6 L351.87 311.08 L352.42 309.49 L352.89 307.83 L353.29 306.1 L353.6 304.3 L353.84 302.44 L353.99 300.53 L354.07 298.56 L354.06 296.55 L353.97 294.49 L353.8 292.4" fill="none" stroke="#999" stroke-width="1.17" />
<path d="M349.53 271.69 C350.32 270.69 349 270.39 348.34 268.92 C347.68 267.45 347.76 267.63 347.05 266.17 C346.34 264.71 346.43 264.89 345.67 263.45 C344.91 262.02 345 262.19 344.19 260.78 C343.38 259.37 343.49 259.54 342.63 258.15 C341.78 256.77 341.88 256.94 340.99 255.58 C340.09 254.23 340.2 254.4 339.27 253.08 C338.33 251.76 338.45 251.92 337.47 250.65 C336.5 249.37 336.62 249.53 335.62 248.29 C334.61 247.06 334.74 247.21 333.7 246.03 C332.66 244.85 332.79 244.99 331.72 243.86 C330.66 242.73 330.81 241.3 329.7 241.79 C328.59 242.28 327.66 244.16 327.57 245.7 C327.48 247.25 328.42 246.56 329.37 247.58 C330.32 248.6 330.2 248.47 331.13 249.54 C332.06 250.61 331.95 250.48 332.85 251.59 C333.75 252.7 333.64 252.56 334.51 253.72 C335.38 254.87 335.27 254.72 336.11 255.91 C336.95 257.1 336.85 256.95 337.66 258.17 C338.46 259.39 338.37 259.24 339.13 260.49 C339.9 261.73 339.81 261.58 340.54 262.85 C341.27 264.12 341.18 263.97 341.87 265.26 C342.56 266.55 342.48 266.39 343.12 267.7 C343.76 269.01 343.69 268.85 344.29 270.17 C344.89 271.5 343.97 272.26 345.37 272.67 C346.76 273.07 348.74 272.69 349.53 271.69Z" fill="#fff" stroke="#1a1a1a" stroke-width="1.23" />
<path d="M347.35 269.17 L346.32 266.96 L345.23 264.77 L344.07 262.61 L342.86 260.47 L341.59 258.37 L340.26 256.3 L338.89 254.28 L337.46 252.31 L335.99 250.39 L334.48 248.53 L332.93 246.72 L331.35 244.98" fill="none" stroke="#999" stroke-width="1.17" />
<path d="M314.83 230.66 C314.38 229.06 313.81 230.12 312.65 229.58 C311.49 229.05 311.63 229.11 310.48 228.65 C309.33 228.19 309.47 228.25 308.33 227.87 C307.18 227.49 307.32 227.53 306.19 227.23 C305.06 226.93 305.2 226.97 304.09 226.75 C302.98 226.53 303.11 226.55 302.02 226.42 C300.93 226.28 301.07 226.3 300 226.24 C298.93 226.19 299.06 226.19 298.02 226.22 C296.98 226.25 297.11 226.24 296.1 226.35 C295.09 226.46 295.21 226.45 294.24 226.64 C293.26 226.83 293.38 226.8 292.44 227.08 C291.5 227.35 290.53 226.2 290.72 227.67 C290.9 229.14 292.09 231.42 293.14 232.6 C294.19 233.78 293.82 232.33 294.65 232.09 C295.47 231.86 295.36 231.88 296.22 231.72 C297.07 231.56 296.97 231.58 297.85 231.49 C298.74 231.4 298.63 231.41 299.54 231.4 C300.45 231.38 300.34 231.38 301.28 231.44 C302.21 231.5 302.1 231.49 303.06 231.62 C304.02 231.76 303.9 231.74 304.88 231.95 C305.86 232.15 305.73 232.12 306.73 232.4 C307.73 232.69 307.6 232.65 308.61 233 C309.62 233.35 309.5 233.3 310.51 233.73 C311.53 234.15 311.41 234.09 312.43 234.59 C313.46 235.08 313.72 236.62 314.36 235.57 C315 234.53 315.29 232.26 314.83 230.66Z" fill="#fff" stroke="#1a1a1a" stroke-width="1.23" />
<path d="M313.48 231.44 L311.75 230.66 L310.03 229.99 L308.32 229.41 L306.63 228.94 L304.97 228.57 L303.33 228.3 L301.72 228.14 L300.14 228.08 L298.59 228.13 L297.09 228.28 L295.63 228.53 L294.21 228.89" fill="none" stroke="#999" stroke-width="1.17" />
<path d="M281.1 235.77 C279.85 235.17 280.61 236.53 280.11 237.46 C279.61 238.4 279.67 238.28 279.23 239.28 C278.79 240.28 278.84 240.15 278.46 241.21 C278.08 242.27 278.12 242.14 277.8 243.25 C277.48 244.37 277.52 244.23 277.26 245.4 C277 246.57 277.03 246.42 276.84 247.64 C276.64 248.85 276.66 248.7 276.53 249.96 C276.4 251.23 276.41 251.07 276.35 252.37 C276.28 253.68 276.29 253.52 276.28 254.86 C276.28 256.2 276.28 256.03 276.34 257.41 C276.4 258.79 276.39 258.61 276.52 260.02 C276.64 261.43 275.52 261.7 276.81 262.68 C278.11 263.66 280.23 264.06 281.37 263.69 C282.51 263.33 281.2 262.57 281.08 261.31 C280.95 260.06 280.96 260.21 280.89 258.98 C280.81 257.75 280.82 257.9 280.8 256.7 C280.79 255.5 280.79 255.65 280.83 254.48 C280.87 253.32 280.86 253.46 280.96 252.33 C281.06 251.2 281.04 251.34 281.2 250.26 C281.35 249.17 281.33 249.3 281.54 248.26 C281.75 247.22 281.72 247.35 281.99 246.35 C282.26 245.36 282.22 245.48 282.54 244.54 C282.86 243.6 282.82 243.71 283.19 242.82 C283.57 241.94 283.52 242.04 283.95 241.21 C284.37 240.38 285.56 241.16 284.8 239.71 C284.04 238.26 282.35 236.37 281.1 235.77Z" fill="#fff" stroke="#1a1a1a" stroke-width="1.23" />
<path d="M282.79 238.56 L282.09 240 L281.47 241.52 L280.92 243.11 L280.44 244.77 L280.05 246.5 L279.73 248.3 L279.5 250.16 L279.34 252.07 L279.27 254.04 L279.27 256.05 L279.36 258.11 L279.53 260.2" fill="none" stroke="#999" stroke-width="1.17" />
<path d="M282.07 281.91 C281.28 282.91 282.6 283.21 283.26 284.68 C283.92 286.15 283.84 285.97 284.55 287.43 C285.26 288.89 285.17 288.71 285.93 290.15 C286.69 291.58 286.6 291.41 287.41 292.82 C288.22 294.23 288.11 294.06 288.97 295.45 C289.82 296.83 289.72 296.66 290.61 298.02 C291.51 299.37 291.4 299.2 292.33 300.52 C293.27 301.84 293.15 301.68 294.13 302.95 C295.1 304.23 294.98 304.07 295.98 305.31 C296.99 306.54 296.86 306.39 297.9 307.57 C298.94 308.75 298.81 308.61 299.88 309.74 C300.94 310.87 300.79 312.3 301.9 311.81 C303.01 311.32 303.94 309.44 304.03 307.9 C304.12 306.35 303.18 307.04 302.23 306.02 C301.28 305 301.4 305.13 300.47 304.06 C299.54 302.99 299.65 303.12 298.75 302.01 C297.85 300.9 297.96 301.04 297.09 299.88 C296.22 298.73 296.33 298.88 295.49 297.69 C294.65 296.5 294.75 296.65 293.94 295.43 C293.14 294.21 293.23 294.36 292.47 293.11 C291.7 291.87 291.79 292.02 291.06 290.75 C290.33 289.48 290.42 289.63 289.73 288.34 C289.04 287.05 289.12 287.21 288.48 285.9 C287.84 284.59 287.91 284.75 287.31 283.43 C286.71 282.1 287.63 281.34 286.23 280.93 C284.84 280.53 282.86 280.91 282.07 281.91Z" fill="#fff" stroke="#1a1a1a" stroke-width="1.23" />
<path d="M285.98 283.43 L287.01 285.64 L288.11 287.83 L289.26 289.99 L290.47 292.13 L291.75 294.23 L293.07 296.3 L294.45 298.32 L295.87 300.29 L297.34 302.21 L298.85 304.07 L300.4 305.88 L301.98 307.62" fill="none" stroke="#999" stroke-width="1.17" />
<path d="M316.77 322.94 C317.22 324.54 317.79 323.48 318.95 324.02 C320.11 324.55 319.97 324.49 321.12 324.95 C322.27 325.41 322.13 325.35 323.27 325.73 C324.42 326.11 324.28 326.07 325.41 326.37 C326.54 326.67 326.4 326.63 327.51 326.85 C328.62 327.07 328.49 327.05 329.58 327.18 C330.67 327.32 330.53 327.3 331.6 327.36 C332.67 327.41 332.54 327.41 333.58 327.38 C334.62 327.35 334.49 327.36 335.5 327.25 C336.51 327.14 336.39 327.15 337.36 326.96 C338.34 326.77 338.22 326.8 339.16 326.52 C340.1 326.25 341.07 327.4 340.88 325.93 C340.7 324.46 339.51 322.18 338.46 321 C337.41 319.82 337.78 321.27 336.95 321.51 C336.13 321.74 336.24 321.72 335.38 321.88 C334.53 322.04 334.63 322.02 333.75 322.11 C332.86 322.2 332.97 322.19 332.06 322.2 C331.15 322.22 331.26 322.22 330.32 322.16 C329.39 322.1 329.5 322.11 328.54 321.98 C327.58 321.84 327.7 321.86 326.72 321.65 C325.74 321.45 325.87 321.48 324.87 321.2 C323.87 320.91 324 320.95 322.99 320.6 C321.98 320.25 322.1 320.3 321.09 319.87 C320.07 319.45 320.19 319.51 319.17 319.01 C318.14 318.52 317.88 316.98 317.24 318.03 C316.6 319.07 316.31 321.34 316.77 322.94Z" fill="#fff" stroke="#1a1a1a" stroke-width="1.23" />
<path d="M319.86 321.16 L321.59 321.94 L323.31 322.61 L325.01 323.19 L326.7 323.66 L328.36 324.03 L330 324.3 L331.62 324.46 L333.2 324.52 L334.74 324.47 L336.24 324.32 L337.7 324.07 L339.12 323.71" fill="none" stroke="#999" stroke-width="1.17" />
<ellipse cx="412.7" cy="217.3" rx="40.5" ry="67" transform="rotate(-30 412.7 217.3)" fill="#fff" stroke="#1a1a1a" stroke-width="1.3" />
<path d="M441.63 277.67 L444.22 276.45 L446.65 274.95 L448.9 273.16 L450.97 271.1 L452.84 268.78 L454.5 266.2 L455.95 263.38 L457.18 260.34 L458.17 257.09 L458.94 253.64 L459.47 250.02 L459.75 246.24 L459.8 242.32 L459.61 238.28 L459.17 234.13 L458.5 229.91 L457.59 225.63 L456.45 221.31 L455.09 216.98 L453.51 212.65 L451.72 208.35 L449.73 204.09 L447.54 199.91 L445.18 195.82 L442.65 191.83 L439.96 187.98 L437.13 184.28 L434.17 180.75 L431.1 177.4 L427.93 174.26 L424.68 171.33 L421.36 168.63 L417.99 166.19 L414.58 164 L411.16 162.08 L407.74 160.44 L404.34 159.08 L400.98 158.02 L397.66 157.26 L394.41 156.8 L391.25 156.64 L388.19 156.8 L385.24 157.25 L382.42 158.01 L379.75 159.07 L377.23 160.42 L374.88 162.06" fill="none" stroke="#1a1a1a" stroke-width="0.98"/>
<path d="M439.2 279.07 L441.79 277.85 L444.22 276.35 L446.48 274.56 L448.55 272.5 L450.42 270.18 L452.08 267.6 L453.53 264.78 L454.75 261.74 L455.75 258.49 L456.51 255.04 L457.04 251.42 L457.33 247.64 L457.38 243.72 L457.18 239.68 L456.75 235.53 L456.07 231.31 L455.17 227.03 L454.03 222.71 L452.67 218.38 L451.08 214.05 L449.29 209.75 L447.3 205.49 L445.12 201.31 L442.76 197.22 L440.22 193.23 L437.54 189.38 L434.71 185.68 L431.75 182.15 L428.68 178.8 L425.5 175.66 L422.25 172.73 L418.93 170.03 L415.56 167.59 L412.16 165.4 L408.74 163.48 L405.32 161.84 L401.92 160.48 L398.55 159.42 L395.24 158.66 L391.99 158.2 L388.83 158.04 L385.76 158.2 L382.81 158.65 L380 159.41 L377.32 160.47 L374.8 161.82 L372.46 163.46" fill="none" stroke="#1a1a1a" stroke-width="0.98"/>
<ellipse cx="407.5" cy="220.3" rx="40.5" ry="67" transform="rotate(-30 407.5 220.3)" fill="#fff" stroke="#1a1a1a" stroke-width="1.37" />
<ellipse cx="408" cy="219.5" rx="28" ry="44.5" transform="rotate(-30 408 219.5)" fill="none" stroke="#1a1a1a" stroke-width="1.37" />
<ellipse cx="408.52" cy="219.2" rx="25.6" ry="41.3" transform="rotate(-30 408.52 219.2)" fill="none" stroke="#1a1a1a" stroke-width="1.1" />
<ellipse cx="438.77" cy="267.37" rx="2" ry="3.2" transform="rotate(-30 438.77 267.37)" fill="none" stroke="#1a1a1a" stroke-width="1.3" />
<ellipse cx="447.03" cy="256.61" rx="2" ry="3.2" transform="rotate(-30 447.03 256.61)" fill="none" stroke="#1a1a1a" stroke-width="1.3" />
<ellipse cx="449.37" cy="232.61" rx="2" ry="3.2" transform="rotate(-30 449.37 232.61)" fill="none" stroke="#1a1a1a" stroke-width="1.3" />
<ellipse cx="444.97" cy="215.55" rx="2" ry="3.2" transform="rotate(-30 444.97 215.55)" fill="none" stroke="#1a1a1a" stroke-width="1.3" />
<ellipse cx="426.57" cy="185.91" rx="2" ry="3.2" transform="rotate(-30 426.57 185.91)" fill="none" stroke="#1a1a1a" stroke-width="1.3" />
<ellipse cx="411.38" cy="173.56" rx="2" ry="3.2" transform="rotate(-30 411.38 173.56)" fill="none" stroke="#1a1a1a" stroke-width="1.3" />
<ellipse cx="382.7" cy="169.54" rx="2" ry="3.2" transform="rotate(-30 382.7 169.54)" fill="none" stroke="#1a1a1a" stroke-width="1.3" />
<ellipse cx="371.12" cy="181.25" rx="2" ry="3.2" transform="rotate(-30 371.12 181.25)" fill="none" stroke="#1a1a1a" stroke-width="1.3" />
<ellipse cx="368.36" cy="207.37" rx="2" ry="3.2" transform="rotate(-30 368.36 207.37)" fill="none" stroke="#1a1a1a" stroke-width="1.3" />
<ellipse cx="395.68" cy="257.75" rx="2" ry="3.2" transform="rotate(-30 395.68 257.75)" fill="none" stroke="#1a1a1a" stroke-width="1.3" />
<ellipse cx="411.23" cy="268.12" rx="2" ry="3.2" transform="rotate(-30 411.23 268.12)" fill="none" stroke="#1a1a1a" stroke-width="1.3" />
<path d="M423.65 256.93 L423 252.99 L422.87 250.67 L422.86 248.82 L422.92 247.29 L423.04 246 L423.21 244.9 L423.44 243.98 L423.73 243.21 L424.09 242.57 L424.52 242.07 L425.04 241.69 L425.65 241.42 L426.37 241.26 L427.21 241.2 L428.17 241.25 L429.3 241.39 L430.61 241.65 L432.18 242.06 L434.12 242.69 L437.33 244.28" fill="none" stroke="#1a1a1a" stroke-width="1.23" />
<path d="M424.08 249.97 L424.07 248.12 L424.13 246.59 L424.25 245.3 L424.42 244.2 L424.65 243.28 L424.94 242.51 L425.3 241.87 L425.74 241.37 L426.25 240.99 L426.87 240.72" fill="none" stroke="#1a1a1a" stroke-width="0.78" />
<path d="M438.82 234.23 L435.77 231.57 L434.01 229.69 L432.62 228.09 L431.48 226.69 L430.52 225.42 L429.72 224.26 L429.05 223.18 L428.51 222.17 L428.08 221.19 L427.76 220.24 L427.54 219.29 L427.41 218.34 L427.38 217.35 L427.45 216.31 L427.6 215.2 L427.85 214 L428.22 212.68 L428.72 211.18 L429.45 209.44 L431.05 207.03" fill="none" stroke="#1a1a1a" stroke-width="1.23" />
<path d="M435.22 228.99 L433.83 227.39 L432.69 225.99 L431.73 224.72 L430.93 223.56 L430.26 222.48 L429.72 221.47 L429.29 220.49 L428.97 219.54 L428.75 218.59 L428.63 217.64" fill="none" stroke="#1a1a1a" stroke-width="0.78" />
<path d="M423.68 196.5 L421.29 197.78 L419.66 198.22 L418.28 198.47 L417.07 198.6 L416 198.62 L415.03 198.56 L414.13 198.41 L413.3 198.16 L412.51 197.82 L411.75 197.37 L411.01 196.8 L410.28 196.11 L409.53 195.29 L408.76 194.31 L407.95 193.16 L407.08 191.81 L406.13 190.22 L405.07 188.32 L403.85 185.94 L402.24 181.95" fill="none" stroke="#1a1a1a" stroke-width="1.23" />
<path d="M420.87 197.52 L419.49 197.77 L418.29 197.9 L417.21 197.92 L416.24 197.86 L415.34 197.71 L414.51 197.46 L413.72 197.12 L412.97 196.67 L412.23 196.1 L411.49 195.41" fill="none" stroke="#1a1a1a" stroke-width="0.78" />
<path d="M393.39 181.47 L394.04 185.41 L394.17 187.73 L394.18 189.58 L394.12 191.11 L394 192.4 L393.83 193.5 L393.6 194.42 L393.31 195.19 L392.95 195.83 L392.52 196.33 L392 196.71 L391.38 196.98 L390.67 197.14 L389.83 197.2 L388.87 197.15 L387.74 197.01 L386.43 196.75 L384.86 196.34 L382.92 195.71 L379.71 194.12" fill="none" stroke="#1a1a1a" stroke-width="1.23" />
<path d="M395.38 187.03 L395.39 188.88 L395.33 190.41 L395.21 191.7 L395.04 192.8 L394.81 193.72 L394.52 194.49 L394.16 195.13 L393.73 195.63 L393.21 196.01 L392.6 196.28" fill="none" stroke="#1a1a1a" stroke-width="0.78" />
<path d="M378.22 204.17 L381.27 206.83 L383.03 208.71 L384.42 210.31 L385.56 211.71 L386.52 212.98 L387.32 214.14 L387.99 215.22 L388.53 216.23 L388.96 217.21 L389.28 218.16 L389.5 219.11 L389.63 220.06 L389.66 221.05 L389.59 222.09 L389.44 223.2 L389.19 224.4 L388.82 225.72 L388.32 227.22 L387.59 228.96 L385.99 231.37" fill="none" stroke="#1a1a1a" stroke-width="1.23" />
<path d="M384.24 208.01 L385.63 209.61 L386.78 211.01 L387.73 212.28 L388.54 213.44 L389.2 214.52 L389.74 215.53 L390.17 216.51 L390.49 217.46 L390.71 218.41 L390.84 219.36" fill="none" stroke="#1a1a1a" stroke-width="0.78" />
<path d="M393.36 241.9 L395.75 240.62 L397.38 240.18 L398.76 239.93 L399.97 239.8 L401.04 239.78 L402.01 239.84 L402.91 239.99 L403.74 240.24 L404.53 240.58 L405.28 241.03 L406.02 241.6 L406.76 242.29 L407.51 243.11 L408.28 244.09 L409.09 245.24 L409.96 246.59 L410.91 248.18 L411.97 250.08 L413.19 252.46 L414.8 256.45" fill="none" stroke="#1a1a1a" stroke-width="1.23" />
<path d="M398.6 239.48 L399.97 239.23 L401.18 239.1 L402.25 239.08 L403.23 239.14 L404.12 239.29 L404.95 239.54 L405.74 239.88 L406.5 240.33 L407.24 240.9 L407.97 241.59" fill="none" stroke="#1a1a1a" stroke-width="0.78" />
<ellipse cx="410.7" cy="219.7" rx="15.2" ry="19.8" transform="rotate(-30 410.7 219.7)" fill="#fff" stroke="#1a1a1a" stroke-width="1.37" />
<path d="M403.32 201.53 L402.38 201.99 L401.48 202.54 L400.64 203.16 L399.86 203.87 L399.14 204.65 L398.48 205.5 L397.88 206.42 L397.36 207.41 L396.91 208.45 L396.53 209.54 L396.23 210.68 L396.01 211.87 L395.87 213.08 L395.81 214.33 L395.83 215.6 L395.93 216.89 L396.11 218.19 L396.37 219.49 L396.7 220.79 L397.11 222.08 L397.6 223.36 L398.15 224.61 L398.78 225.83 L399.47 227.03 L400.22 228.18 L401.03 229.28 L401.9 230.34 L402.81 231.34 L403.77 232.27 L404.77 233.14 L405.81 233.94 L406.88 234.67 L407.97 235.31 L409.08 235.88 L410.21 236.36 L411.34 236.76 L412.48 237.06 L413.62 237.28 L414.74 237.4 L415.85 237.44 L416.95 237.38 L418.01 237.23" fill="none" stroke="#1a1a1a" stroke-width="0.91"/>
<line x1="420.65" y1="229.47" x2="416.62" y2="225.51" stroke="#1a1a1a" stroke-width="0.91" />
<circle cx="420.65" cy="229.47" r="1.6" fill="#fff" stroke="#1a1a1a" stroke-width="1.0"/>
<line x1="422.28" y1="219.99" x2="417.6" y2="219.87" stroke="#1a1a1a" stroke-width="0.91" />
<circle cx="422.28" cy="219.99" r="1.6" fill="#fff" stroke="#1a1a1a" stroke-width="1.0"/>
<line x1="417.12" y1="210.34" x2="414.54" y2="214.13" stroke="#1a1a1a" stroke-width="0.91" />
<circle cx="417.12" cy="210.34" r="1.6" fill="#fff" stroke="#1a1a1a" stroke-width="1.0"/>
<line x1="408.21" y1="206.17" x2="409.23" y2="211.65" stroke="#1a1a1a" stroke-width="0.91" />
<circle cx="408.21" cy="206.17" r="1.6" fill="#fff" stroke="#1a1a1a" stroke-width="1.0"/>
<line x1="400.75" y1="209.93" x2="404.78" y2="213.89" stroke="#1a1a1a" stroke-width="0.91" />
<circle cx="400.75" cy="209.93" r="1.6" fill="#fff" stroke="#1a1a1a" stroke-width="1.0"/>
<line x1="399.12" y1="219.41" x2="403.8" y2="219.53" stroke="#1a1a1a" stroke-width="0.91" />
<circle cx="399.12" cy="219.41" r="1.6" fill="#fff" stroke="#1a1a1a" stroke-width="1.0"/>
<line x1="404.28" y1="229.06" x2="406.86" y2="225.27" stroke="#1a1a1a" stroke-width="0.91" />
<circle cx="404.28" cy="229.06" r="1.6" fill="#fff" stroke="#1a1a1a" stroke-width="1.0"/>
<line x1="413.19" y1="233.23" x2="412.17" y2="227.75" stroke="#1a1a1a" stroke-width="0.91" />
<circle cx="413.19" cy="233.23" r="1.6" fill="#fff" stroke="#1a1a1a" stroke-width="1.0"/>
<line x1="404.28" y1="215.95" x2="411.32" y2="214.45" stroke="#1a1a1a" stroke-width="1.1" />
<line x1="405.58" y1="218.2" x2="412.62" y2="216.7" stroke="#1a1a1a" stroke-width="1.1" />
<line x1="406.88" y1="220.45" x2="413.92" y2="218.95" stroke="#1a1a1a" stroke-width="1.1" />
<line x1="408.18" y1="222.7" x2="415.22" y2="221.2" stroke="#1a1a1a" stroke-width="1.1" />
<line x1="409.48" y1="224.95" x2="416.52" y2="223.45" stroke="#1a1a1a" stroke-width="1.1" />
<ellipse cx="410.7" cy="219.7" rx="6.2" ry="8.3" transform="rotate(-30 410.7 219.7)" fill="none" stroke="#1a1a1a" stroke-width="0.91" stroke-dasharray="2.2 1.6"/>
<path d="M339.7 211.7 L373.7 225.7 L377.5 229 L378.6 234 L376.5 239.3 L372.3 239.7 L341 225 L338 228.5" fill="#fff" stroke="#1a1a1a" stroke-width="1.3" />
<path d="M339.7 211.7 L337.6 219 L337.5 229.5" fill="none" stroke="#1a1a1a" stroke-width="1.04" />
<ellipse cx="373" cy="234.3" rx="1.9" ry="2.6" transform="rotate(-30 373 234.3)" fill="none" stroke="#1a1a1a" stroke-width="1.17" />
<path d="M367.7 228.3 L366.3 235.5" fill="none" stroke="#1a1a1a" stroke-width="1.04" />
<path d="M477.8 93.4 C478.55 90.98 479.05 90.28 480.3 89.4 C481.55 88.52 482.97 87.85 485.3 88.1 C487.63 88.35 491.97 89.77 494.3 90.9 C496.63 92.03 498.05 92.82 499.3 94.9 C500.55 96.98 500.3 100.4 501.8 103.4 C503.3 106.4 505.55 110.32 508.3 112.9 C511.05 115.48 515.47 117.98 518.3 118.9 C521.13 119.82 523.13 118.4 525.3 118.4 C527.47 118.4 529.47 117.98 531.3 118.9 C533.13 119.82 535.13 121.65 536.3 123.9 C537.47 126.15 538.22 129.15 538.3 132.4 C538.38 135.65 536.38 138.73 536.8 143.4 C537.22 148.07 538.63 153.07 540.8 160.4 C542.97 167.73 547.47 180.23 549.8 187.4 C552.13 194.57 552.8 199.4 554.8 203.4 C556.8 207.4 559.97 208.73 561.8 211.4 C563.63 214.07 565.38 216.73 565.8 219.4 C566.22 222.07 565.55 225.57 564.3 227.4 C563.05 229.23 560.3 230.32 558.3 230.4 C556.3 230.48 554.22 228.57 552.3 227.9 C550.38 227.23 548.38 225.98 546.8 226.4 C545.22 226.82 543.38 227.9 542.8 230.4 C542.22 232.9 543.72 238.32 543.3 241.4 C542.88 244.48 541.97 247.15 540.3 248.9 C538.63 250.65 535.55 252.07 533.3 251.9 C531.05 251.73 528.8 250.23 526.8 247.9 C524.8 245.57 524.22 240.98 521.3 237.9 C518.38 234.82 515.05 233.57 509.3 229.4 C503.55 225.23 493.63 217.82 486.8 212.9 C479.97 207.98 472.72 202.07 468.3 199.9 C463.88 197.73 462.72 200.82 460.3 199.9 C457.88 198.98 455.38 196.98 453.8 194.4 C452.22 191.82 450.97 187.32 450.8 184.4 C450.63 181.48 452.05 179.07 452.8 176.9 C453.55 174.73 455.13 173.9 455.3 171.4 C455.47 168.9 455.13 165.65 453.8 161.9 C452.47 158.15 449.63 152.23 447.3 148.9 C444.97 145.57 441.63 144.48 439.8 141.9 C437.97 139.32 436.38 135.9 436.3 133.4 C436.22 130.9 437.72 128.23 439.3 126.9 C440.88 125.57 443.72 125.73 445.8 125.4 C447.88 125.07 449.97 126.07 451.8 124.9 C453.63 123.73 454.05 121.07 456.8 118.4 C459.55 115.73 465.13 111.32 468.3 108.9 C471.47 106.48 474.22 106.48 475.8 103.9 C477.38 101.32 477.05 95.82 477.8 93.4Z" fill="#fff" stroke="#1a1a1a" stroke-width="1.04" />
<path d="M475.5 94 C476.25 91.58 476.75 90.88 478 90 C479.25 89.12 480.67 88.45 483 88.7 C485.33 88.95 489.67 90.37 492 91.5 C494.33 92.63 495.75 93.42 497 95.5 C498.25 97.58 498 101 499.5 104 C501 107 503.25 110.92 506 113.5 C508.75 116.08 513.17 118.58 516 119.5 C518.83 120.42 520.83 119 523 119 C525.17 119 527.17 118.58 529 119.5 C530.83 120.42 532.83 122.25 534 124.5 C535.17 126.75 535.92 129.75 536 133 C536.08 136.25 534.08 139.33 534.5 144 C534.92 148.67 536.33 153.67 538.5 161 C540.67 168.33 545.17 180.83 547.5 188 C549.83 195.17 550.5 200 552.5 204 C554.5 208 557.67 209.33 559.5 212 C561.33 214.67 563.08 217.33 563.5 220 C563.92 222.67 563.25 226.17 562 228 C560.75 229.83 558 230.92 556 231 C554 231.08 551.92 229.17 550 228.5 C548.08 227.83 546.08 226.58 544.5 227 C542.92 227.42 541.08 228.5 540.5 231 C539.92 233.5 541.42 238.92 541 242 C540.58 245.08 539.67 247.75 538 249.5 C536.33 251.25 533.25 252.67 531 252.5 C528.75 252.33 526.5 250.83 524.5 248.5 C522.5 246.17 521.92 241.58 519 238.5 C516.08 235.42 512.75 234.17 507 230 C501.25 225.83 491.33 218.42 484.5 213.5 C477.67 208.58 470.42 202.67 466 200.5 C461.58 198.33 460.42 201.42 458 200.5 C455.58 199.58 453.08 197.58 451.5 195 C449.92 192.42 448.67 187.92 448.5 185 C448.33 182.08 449.75 179.67 450.5 177.5 C451.25 175.33 452.83 174.5 453 172 C453.17 169.5 452.83 166.25 451.5 162.5 C450.17 158.75 447.33 152.83 445 149.5 C442.67 146.17 439.33 145.08 437.5 142.5 C435.67 139.92 434.08 136.5 434 134 C433.92 131.5 435.42 128.83 437 127.5 C438.58 126.17 441.42 126.33 443.5 126 C445.58 125.67 447.67 126.67 449.5 125.5 C451.33 124.33 451.75 121.67 454.5 119 C457.25 116.33 462.83 111.92 466 109.5 C469.17 107.08 471.92 107.08 473.5 104.5 C475.08 101.92 474.75 96.42 475.5 94Z" fill="#fff" stroke="#1a1a1a" stroke-width="1.17" />
<ellipse cx="498.75" cy="169.7" rx="28.5" ry="46" transform="rotate(-30 498.75 169.7)" fill="#fff" stroke="#1a1a1a" stroke-width="1.17" />
<clipPath id="cp1"><ellipse cx="498.75" cy="169.7" rx="28.5" ry="46" transform="rotate(-30 498.75 169.7)"/></clipPath>
<g clip-path="url(#cp1)">
<ellipse cx="504.12" cy="166.6" rx="28.5" ry="46" transform="rotate(-30 504.12 166.6)" fill="none" stroke="#1a1a1a" stroke-width="1.04" />
</g>
<ellipse cx="490.5" cy="100.4" rx="1.9" ry="2.8" transform="rotate(-30 490.5 100.4)" fill="none" stroke="#1a1a1a" stroke-width="1.04" />
<ellipse cx="527.4" cy="128" rx="1.9" ry="2.8" transform="rotate(-30 527.4 128)" fill="none" stroke="#1a1a1a" stroke-width="1.04" />
<ellipse cx="553.5" cy="219.5" rx="1.9" ry="2.8" transform="rotate(-30 553.5 219.5)" fill="none" stroke="#1a1a1a" stroke-width="1.04" />
<ellipse cx="527.4" cy="243.5" rx="1.9" ry="2.8" transform="rotate(-30 527.4 243.5)" fill="none" stroke="#1a1a1a" stroke-width="1.04" />
<ellipse cx="453.6" cy="185.6" rx="1.9" ry="2.8" transform="rotate(-30 453.6 185.6)" fill="none" stroke="#1a1a1a" stroke-width="1.04" />
<ellipse cx="440.4" cy="137" rx="1.9" ry="2.8" transform="rotate(-30 440.4 137)" fill="none" stroke="#1a1a1a" stroke-width="1.04" />
<ellipse cx="479.4" cy="99.5" rx="1.6" ry="2.2" transform="rotate(-30 479.4 99.5)" fill="none" stroke="#1a1a1a" stroke-width="1.04" />
<ellipse cx="552" cy="227" rx="1.6" ry="2.2" transform="rotate(-30 552 227)" fill="none" stroke="#1a1a1a" stroke-width="1.04" />
<ellipse cx="457.5" cy="196.4" rx="1.6" ry="2.2" transform="rotate(-30 457.5 196.4)" fill="none" stroke="#1a1a1a" stroke-width="1.04" />
<line x1="520" y1="133" x2="541" y2="122.5" stroke="#2a2a2a" stroke-width="0.78" />
<path d="M559.15 108.14 L540.53 118.89 L543.83 124.61 L562.45 113.86" fill="#fff" stroke="#1a1a1a" stroke-width="1.23" />
<ellipse cx="542.18" cy="121.75" rx="1.7" ry="3.3" transform="rotate(-30 542.18 121.75)" fill="#fff" stroke="#1a1a1a" stroke-width="1.23" />
<line x1="541.98" y1="118.4" x2="544.55" y2="123.85" stroke="#555" stroke-width="0.65" />
<line x1="543.28" y1="117.65" x2="545.85" y2="123.1" stroke="#555" stroke-width="0.65" />
<line x1="544.58" y1="116.9" x2="547.14" y2="122.35" stroke="#555" stroke-width="0.65" />
<line x1="545.88" y1="116.15" x2="548.44" y2="121.6" stroke="#555" stroke-width="0.65" />
<line x1="547.18" y1="115.4" x2="549.74" y2="120.85" stroke="#555" stroke-width="0.65" />
<line x1="548.47" y1="114.65" x2="551.04" y2="120.1" stroke="#555" stroke-width="0.65" />
<line x1="549.77" y1="113.9" x2="552.34" y2="119.35" stroke="#555" stroke-width="0.65" />
<ellipse cx="559.5" cy="111.75" rx="4.3" ry="7.6" transform="rotate(-30 559.5 111.75)" fill="#fff" stroke="#1a1a1a" stroke-width="1.23" />
<ellipse cx="561.06" cy="110.85" rx="4.3" ry="7.6" transform="rotate(-30 561.06 110.85)" fill="#fff" stroke="#1a1a1a" stroke-width="1.23" />
<ellipse cx="562.53" cy="110" rx="3.5" ry="5.8" transform="rotate(-30 562.53 110)" fill="#fff" stroke="#1a1a1a" stroke-width="1.23" />
<ellipse cx="564.44" cy="108.9" rx="3.5" ry="5.8" transform="rotate(-30 564.44 108.9)" fill="#fff" stroke="#1a1a1a" stroke-width="1.23" />
<g style="will-change:transform">
<rect x="51.5" y="280" width="15" height="16" rx="2.5" fill="#fff" stroke="#e2c21c" stroke-width="3"/>
<path d="M59.1 292.6 V285.4 q-1.4 1.1 -2.9 1.5 v-2.0 q2.2 -0.8 3.4 -2.6 h2.1 V292.6 z" fill="#111"/>
<text x="149.6" y="241" font-size="14" font-weight="bold" text-anchor="middle" fill="#111">2</text>
<text x="186.6" y="219.5" font-size="14" font-weight="bold" text-anchor="middle" fill="#111">3</text>
<text x="231" y="194.5" font-size="14" font-weight="bold" text-anchor="middle" fill="#111">4</text>
<text x="293.5" y="157.7" font-size="14" font-weight="bold" text-anchor="middle" fill="#111">5</text>
<text x="369" y="122.3" font-size="14" font-weight="bold" text-anchor="middle" fill="#111">6</text>
<text x="400" y="121" font-size="14" font-weight="bold" text-anchor="middle" fill="#111">7</text>
<text x="587" y="122.5" font-size="14" font-weight="bold" text-anchor="middle" fill="#111">8</text>
<text x="44" y="497.5" font-size="13" fill="#111">hirochi</text>
</g>
</svg>
</body></html>
